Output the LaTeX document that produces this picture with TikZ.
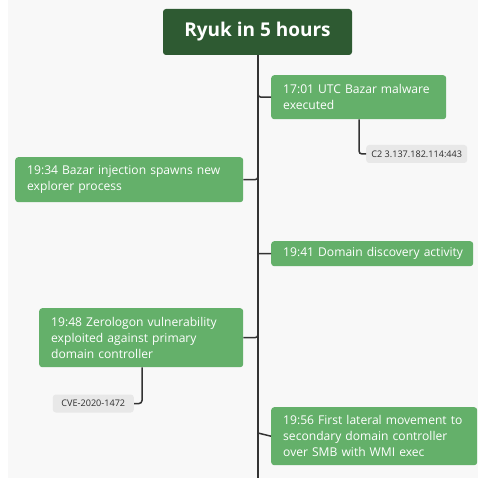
\documentclass[tikz,border=0pt]{standalone}
\usepackage{fontspec}
\setmainfont{Open Sans}
\usetikzlibrary{calc}
\definecolor{pagebg}{HTML}{F8F8F8}
\definecolor{titlegreen}{HTML}{2E5A32}
\definecolor{eventgreen}{HTML}{64B06A}
\definecolor{spinegray}{HTML}{333333}
\definecolor{tagbg}{HTML}{E8E8E8}
\definecolor{tagtext}{HTML}{2E2E2E}
\tikzset{
  titlebox/.style={fill=titlegreen, rounded corners=3pt, text=white,
    font=\fontsize{19}{22}\selectfont\bfseries, minimum width=189pt, minimum height=46pt},
  event/.style={fill=eventgreen, rounded corners=3pt, text=white, align=left,
    font=\fontsize{12.1}{16}\selectfont, inner xsep=12pt, anchor=north west},
  tag/.style={fill=tagbg, rounded corners=3pt, text=tagtext,
    font=\fontsize{9.1}{10}\selectfont, inner xsep=4pt, minimum height=18pt},
  spine/.style={draw=spinegray, line width=2.2pt},
  link/.style={draw=spinegray, line width=1.5pt, rounded corners=3pt}
}
\begin{document}
\begin{tikzpicture}[x=1pt, y=-1pt]
  % canvas
  \useasboundingbox (0,0) rectangle (478,478);
  \fill[white] (0,0) rectangle (478,478);
  \fill[pagebg] (8,0) rectangle (478,478);

  % timeline spine
  \coordinate (top) at (258,55);
  \coordinate (bottom) at (258,478);
  \draw[spine] (top) -- (bottom);

  % title
  \node[titlebox] (title) at (257.5,32) {Ryuk in 5 hours};

  % events
  \node[event, minimum width=175pt, minimum height=44pt, text width=151pt] (e1) at (271,75)
    {17:01 UTC Bazar malware\\executed};
  \node[event, minimum width=228pt, minimum height=45pt, text width=204pt] (e2) at (15,157)
    {19:34 Bazar injection spawns new\\explorer process};
  \node[event, minimum width=202pt, minimum height=25pt, text width=178pt] (e3) at (271,241)
    {\mbox{19:41 Domain discovery activity}};
  \node[event, minimum width=204pt, minimum height=59pt, text width=180pt] (e4) at (39,308)
    {19:48 Zerologon vulnerability\\exploited against primary\\domain controller};
  \node[event, minimum width=206pt, minimum height=58pt, text width=182pt] (e5) at (271,407)
    {19:56 First lateral movement to\\secondary domain controller\\over SMB with WMI exec};

  % tags
  \node[tag, anchor=west, minimum width=101pt] (t1) at (366,154) {C2 3.137.182.114:443};
  \node[tag, anchor=east, minimum width=81pt] (t2) at (134,403.5) {CVE-2020-1472};

  % junctions on the spine
  \coordinate (j1) at (258,96);
  \coordinate (j2) at (258,179);
  \coordinate (j3) at (258,253.5);
  \coordinate (j4) at (258,337);
  \coordinate (j5) at (258,433);

  % connectors from spine to events
  \draw[link] ($(j1)+(0,-5)$) |- (e1.west);
  \draw[link] (e2.east) -| ($(j2)+(0,-5)$);
  \draw[link] (j3) -- (e3.west);
  \draw[link] (e4.east) -| ($(j4)+(0,-5)$);
  \draw[link] (j5) -- (e5.west);

  % connectors from events to tags
  \draw[link] (e1.south -| 359,0) |- (t1.west);
  \draw[link] (e4.south -| 142,0) |- (t2.east);
\end{tikzpicture}
\end{document}
